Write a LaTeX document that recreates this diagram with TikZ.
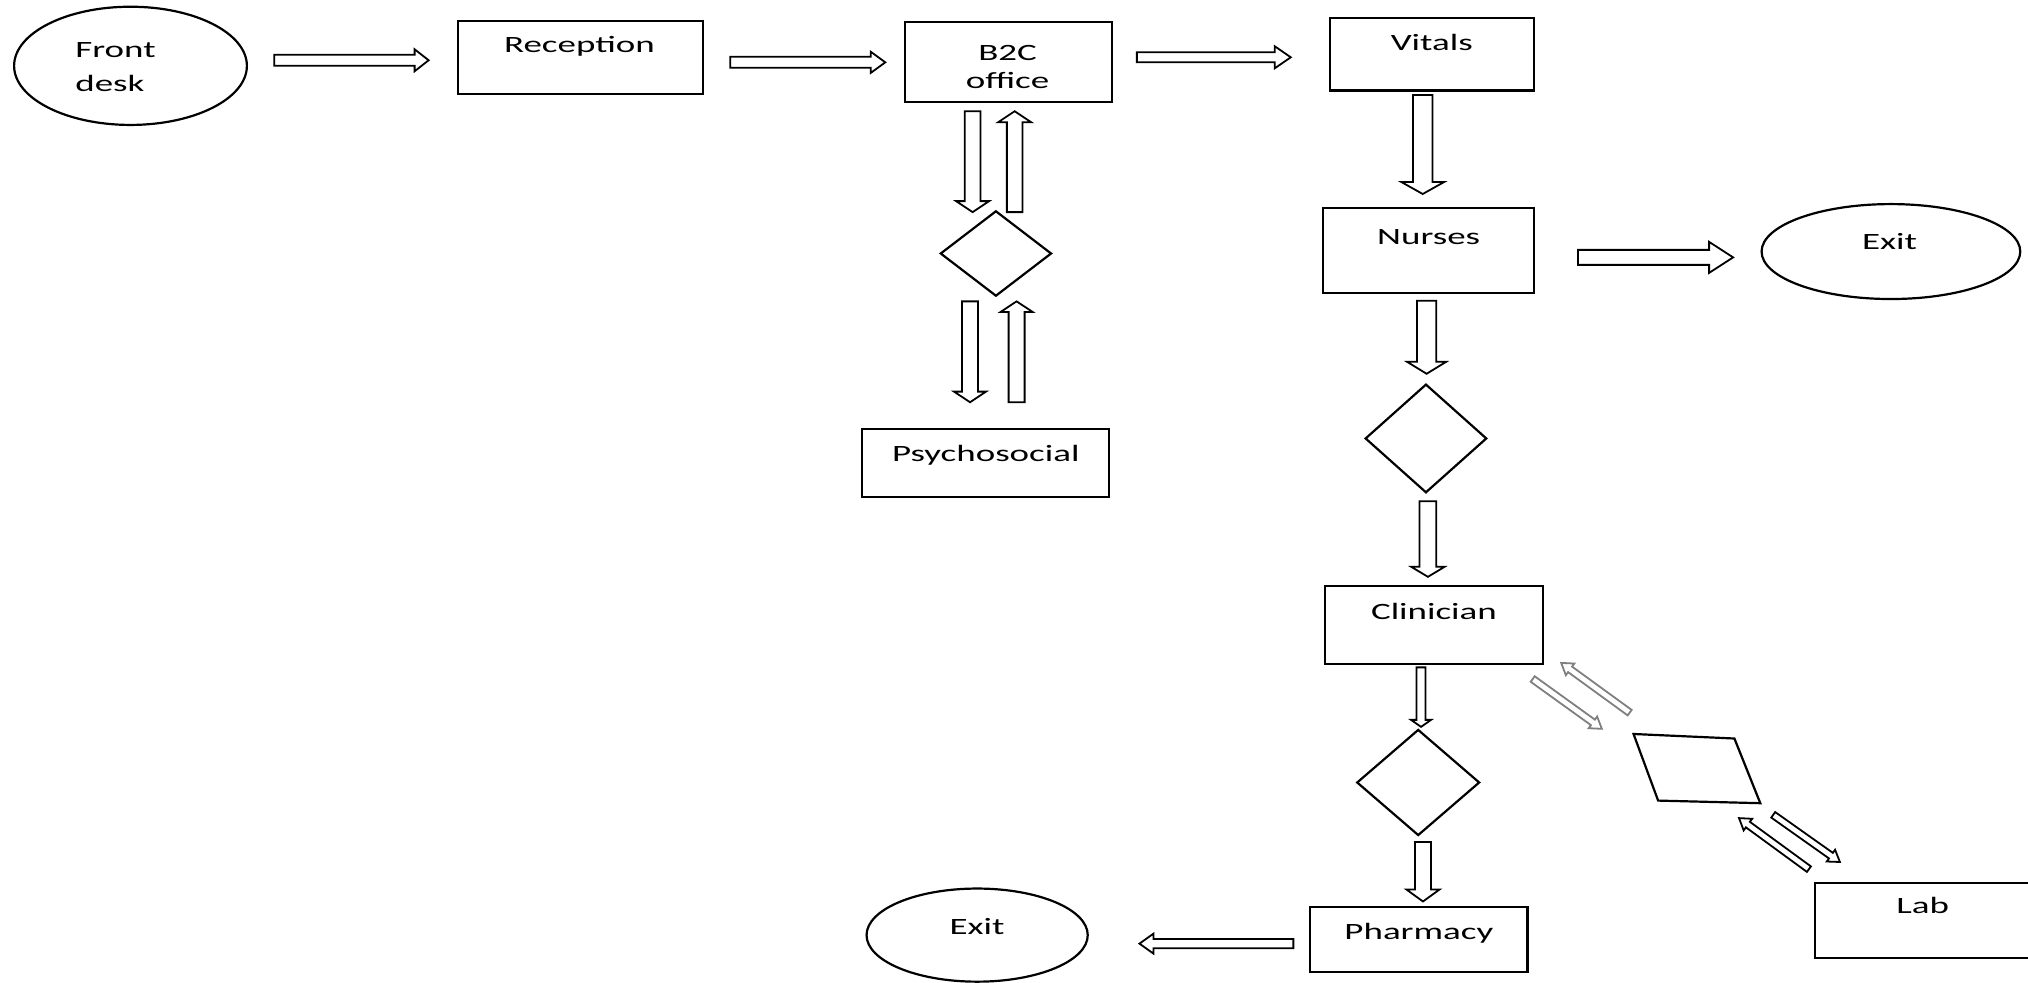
\documentclass[tikz,border=0pt]{standalone}
\usepackage{fontspec}
\newfontfamily\calfont[FakeStretch=1.58]{Carlito}
\usetikzlibrary{shapes.geometric,fit,calc}
\def\uu{0.6467pt}
\newcommand\barrow[6][]{%
  \path let \p1=(#2), \p2=(#3) in \pgfextra{%
    \pgfmathsetmacro\baang{atan2(\y2-\y1,\x2-\x1)}%
    \pgfmathsetmacro\balen{veclen(\x2-\x1,\y2-\y1)}%
    \xdef\baang{\baang}\xdef\balen{\balen}};
  \draw[blockarrow,#1,shift={(#2)},rotate=\baang]
    (0pt,-#4pt) -- ({\balen pt-#6pt},-#4pt) -- ({\balen pt-#6pt},-#5pt) -- ({\balen pt},0pt)
    -- ({\balen pt-#6pt},#5pt) -- ({\balen pt-#6pt},#4pt) -- (0pt,#4pt) -- cycle;
}
\tikzset{
  box/.style={draw, line width=1.1pt, inner sep=0pt, outer sep=0pt, rectangle},
  oval/.style={draw, line width=1.1pt, ellipse, inner sep=0pt},
  dia/.style={draw, line width=1.1pt, diamond, inner sep=0pt, aspect=1},
  txt/.style={font=\calfont\fontsize{11.7}{14}\selectfont, inner sep=0pt, anchor=mid},
  txtc/.style={font=\calfont\fontsize{11.7}{14}\selectfont, inner sep=0pt, align=center},
  blockarrow/.style={draw, line width=0.9pt, fill=white, line join=miter},
  grayarrow/.style={draw=black!50}
}
\begin{document}
\begin{tikzpicture}[x=0.6467pt, y=-0.6467pt]
\useasboundingbox (0,0) rectangle (1568,760);
\clip (0,0) rectangle (1568,760);
\fill[white] (0,0) rectangle (1568,760);
% shapes
\node[oval, minimum width=180*\uu, minimum height=91.4*\uu] (fd) at (100.9,50.9) {};
\node[box, fit={(354,16.2) (543.5,72.7)}] (rec) {};
\node[box, fit={(699.7,16.8) (860,78.6)}] (b2c) {};
\node[box, fit={(1028,14.2) (1185.8,70)}] (vit) {};
\node[box, fit={(1023,160.8) (1186,226.8)}] (nur) {};
\node[oval, minimum width=200*\uu, minimum height=73.4*\uu] (exitA) at (1462,194.5) {};
\node[dia, minimum width=86*\uu, minimum height=66*\uu] (d1) at (770,196) {};
\node[box, fit={(666.5,332) (857.5,384)}] (psy) {};
\node[dia, minimum width=94*\uu, minimum height=84*\uu] (d2) at (1102.5,339) {};
\node[box, fit={(1024.5,453) (1193,513.5)}] (cli) {};
\node[dia, minimum width=95*\uu, minimum height=82*\uu] (d3) at (1096.5,605) {};
\node[box, fit={(1013,701) (1181,751.5)}] (pha) {};
\node[oval, minimum width=171*\uu, minimum height=72*\uu] (exitB) at (755.5,723) {};
\node[box, fit={(1403,682.5) (1600,740.8)}] (lab) {};
\coordinate (pa) at (1263,567.5);
\coordinate (pb) at (1341,571);
\coordinate (pc) at (1361,621);
\coordinate (pd) at (1282,619);
\draw[line width=1.1pt, line join=miter] (pa) -- (pb) -- (pc) -- (pd) -- cycle;
% texts
\node[txtc, align=left, anchor=west] (fdt) at (58,52) {Front\\[2.7pt]desk};
\node[txt] (rect) at (448,37.5) {Reception};
\node[txtc] (b2ct) at (779,51.5) {B2C\\office};
\node[txt] (vitt) at (1107,35.5) {Vitals};
\node[txt] (nurt) at (1104.6,185.5) {Nurses};
\node[txt] (exAt) at (1461,189.5) {Exit};
\node[txt] (psyt) at (762.2,353.5) {Psychosocial};
\node[txt] (clit) at (1108.7,475.5) {Clinician};
\node[txt] (phat) at (1097,723) {Pharmacy};
\node[txt] (exBt) at (755.5,719.5) {Exit};
\node[txt] (labt) at (1486.5,703.3) {Lab};
% arrow end points
\coordinate (a1s) at (212,46.6);   \coordinate (a1e) at (331.4,46.6);
\coordinate (a2s) at (564.6,48.2); \coordinate (a2e) at (684.5,48.2);
\coordinate (a3s) at (879,44.3);   \coordinate (a3e) at (998,44.3);
\coordinate (a4s) at (1100,73.5);  \coordinate (a4e) at (1100,150);
\coordinate (a5s) at (1220,199);   \coordinate (a5e) at (1340,199);
\coordinate (a6s) at (1103,232.5); \coordinate (a6e) at (1103,289);
\coordinate (a7s) at (1104,387.5); \coordinate (a7e) at (1104,446);
\coordinate (a8s) at (1098.7,516); \coordinate (a8e) at (1098.7,562);
\coordinate (a9s) at (1100.2,651); \coordinate (a9e) at (1100.2,697);
\coordinate (a10s) at (1000,729.6); \coordinate (a10e) at (881,729.6);
\coordinate (a11s) at (752,86);    \coordinate (a11e) at (752,164);
\coordinate (a12s) at (784.5,164); \coordinate (a12e) at (784.5,86);
\coordinate (a13s) at (750,233);   \coordinate (a13e) at (750,311);
\coordinate (a14s) at (786,311);   \coordinate (a14e) at (786,233);
\coordinate (a15s) at (1185,525);  \coordinate (a15e) at (1238.5,563.5);
\coordinate (a16s) at (1260,551);  \coordinate (a16e) at (1207,512.5);
\coordinate (a17s) at (1371,630);  \coordinate (a17e) at (1422.6,666.5);
\coordinate (a18s) at (1398.6,672); \coordinate (a18e) at (1344.5,632.5);
% block arrows
\barrow{a1s}{a1e}{2.75}{5.5}{7}
\barrow{a2s}{a2e}{2.75}{5.3}{7.3}
\barrow{a3s}{a3e}{2.5}{5.5}{8}
\barrow{a4s}{a4e}{4.9}{10.7}{6}
\barrow{a5s}{a5e}{3.75}{7.75}{12}
\barrow{a6s}{a6e}{4.8}{9.8}{6}
\barrow{a7s}{a7e}{4.2}{8.3}{5}
\barrow{a8s}{a8e}{2.25}{5}{3.5}
\barrow{a9s}{a9e}{4}{8.3}{6}
\barrow{a10s}{a10e}{2.3}{5}{7}
\barrow{a11s}{a11e}{3.9}{8.25}{5.5}
\barrow{a12s}{a12e}{3.9}{8.25}{5.5}
\barrow{a13s}{a13e}{4}{8}{5.3}
\barrow{a14s}{a14e}{4}{8}{5.3}
\barrow[grayarrow]{a15s}{a15e}{1.7}{3.6}{5.5}
\barrow[grayarrow]{a16s}{a16e}{1.7}{3.6}{5.5}
\barrow{a17s}{a17e}{1.7}{3.6}{5.5}
\barrow{a18s}{a18e}{1.7}{3.6}{5.5}
\end{tikzpicture}
\end{document}
